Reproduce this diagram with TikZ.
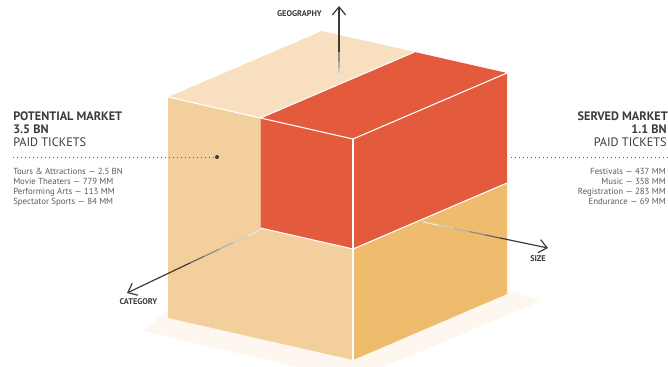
\documentclass[tikz,border=0pt]{standalone}
\usepackage{fontspec}
\setmainfont{PT Sans}
\usepackage{xcolor}
\usepackage{tikz}
\usetikzlibrary{arrows.meta}
\usetikzlibrary{calc, positioning}

\definecolor{topface}{HTML}{F8DFBF}
\definecolor{leftface}{HTML}{F2CF9C}
\definecolor{rightface}{HTML}{EFBC6E}
\definecolor{redblock}{HTML}{E35B3C}
\definecolor{shadowc}{HTML}{FEF7EF}
\definecolor{inkc}{HTML}{3B3B3D}
\definecolor{itemc}{HTML}{5A5A5C}

\begin{document}
\begin{tikzpicture}[
      x=0.75pt, y=-0.75pt,
      edgeline/.style={white, line width=0.8pt},
      axis/.style={inkc, line width=0.9pt, -{Straight Barb[length=6pt, width=10pt, line width=0.9pt]}},
      axlbl/.style={font=\bfseries\fontsize{6.2}{7}\selectfont, text=inkc, inner sep=0pt},
      head/.style={font=\bfseries\fontsize{9.2}{11}\selectfont, text=inkc, inner sep=0pt},
      subhead/.style={font=\fontsize{9.2}{11}\selectfont, text=inkc, inner sep=0pt},
      item/.style={font=\fontsize{6.6}{8}\selectfont, text=itemc, inner sep=0pt},
      dotline/.style={inkc!80, line width=0.7pt, dash pattern=on 0.7pt off 2.3pt},
      marker/.style={circle, fill=inkc, inner sep=0pt, minimum size=3pt}
    ]
    \useasboundingbox (0,0) rectangle (668,367);
    \clip (0,0) rectangle (668,367);

    % Spigoli del cubo
    \coordinate (F) at (353,139);
    \coordinate (L) at (168,97);
    \coordinate (R) at (507,73);
    \coordinate (B) at (322,31);
    \coordinate (Fb) at (353,360);
    \coordinate (Lb) at (168,318);
    \coordinate (Rb) at (507,294);
    \coordinate (Lm) at ($(L)!0.5!(F)$);
    \coordinate (Bm) at ($(B)!0.5!(R)$);
    \coordinate (Lh) at ($(Lm)+(0,110)$);
    \coordinate (Fh) at ($(F)+(0,110)$);
    \coordinate (Rh) at ($(R)+(0,110)$);

    % Ombra
    \fill[shadowc] (168,310) -- (143,331) -- (353,380) -- (541,301) -- (507,290) -- cycle;

    % Facce
    \fill[topface] (L) -- (B) -- (Bm) -- (Lm) -- cycle;
    \fill[leftface] (L) -- (Lm) -- (Lh) -- (Fh) -- (Fb) -- (Lb) -- cycle;
    \fill[rightface] (Fh) -- (Rh) -- (Rb) -- (Fb) -- cycle;
    \fill[redblock] (Lm) -- (Bm) -- (R) -- (Rh) -- (Fh) -- (Lh) -- cycle;

    % Linee bianche
    \draw[edgeline] (L) -- (Lm) -- (F) -- (R);
    \draw[edgeline] (Lm) -- (Bm);
    \draw[edgeline] (F) -- (Fb);
    \draw[edgeline] (Lh) -- (Fh) -- (Rh);

    % Assi (tratto sfumato + freccia)
    \coordinate (geo0) at (339,78);
    \coordinate (geo1) at (339,52);
    \coordinate (geo2) at (339,6);
    \coordinate (cat0) at (262,229);
    \coordinate (cat1) at (190,263);
    \coordinate (cat2) at (127,293);
    \coordinate (siz0) at (423,222);
    \coordinate (siz1) at (500,238);
    \coordinate (siz2) at (548,248);
    \foreach \ax in {geo,cat,siz}{
      \foreach \a/\b/\p in {0/0.2/12, 0.2/0.4/25, 0.4/0.6/40, 0.6/0.8/58, 0.8/1/78}
        \draw[inkc!\p, line width=0.9pt] ($(\ax0)!\a!(\ax1)$) -- ($(\ax0)!\b!(\ax1)$);
      \draw[axis] (\ax1) -- (\ax2);
    }
    \node[axlbl] (geolbl) at (299.5,13.5) {GEOGRAPHY};
    \node[axlbl] (catlbl) at (138.5,302) {CATEGORY};
    \node[axlbl] (sizlbl) at (538,259) {SIZE};

    % Mercato potenziale
    \node[head, anchor=base west] (potname) at (13,120.5) {POTENTIAL MARKET};
    \node[head, anchor=base west] (potval) at (13,134) {3.5 BN};
    \node[subhead, anchor=base west] (potunit) at (13,147) {PAID TICKETS};
    \coordinate (potstart) at (13,157);
    \node[marker] (potdot) at (217,157) {};
    \draw[dotline] (potstart) -- (potdot);
    \foreach \txt [count=\i] in {Tours \& Attractions — 2.5 BN, Movie Theaters — 779 MM,
        Performing Arts — 113 MM, Spectator Sports — 84 MM}
      \node[item, anchor=base west] (potitem\i) at (13,{174.3+10.2*(\i-1)}) {\txt};

    % Mercato servito
    \node[head, anchor=base east] (servname) at (668,120.5) {SERVED MARKET};
    \node[head, anchor=base east] (servval) at (667,134) {1.1 BN};
    \node[subhead, anchor=base east] (servunit) at (667,147) {PAID TICKETS};
    \coordinate (servstart) at (511,157);
    \coordinate (servend) at (668,157);
    \draw[dotline] (servstart) -- (servend);
    \foreach \txt [count=\i] in {Festivals — 437 MM, Music — 358 MM,
        Registration — 283 MM, Endurance — 69 MM}
      \node[item, anchor=base east] (servitem\i) at (666,{174.3+10.2*(\i-1)}) {\txt};
  \end{tikzpicture}
\end{document}
